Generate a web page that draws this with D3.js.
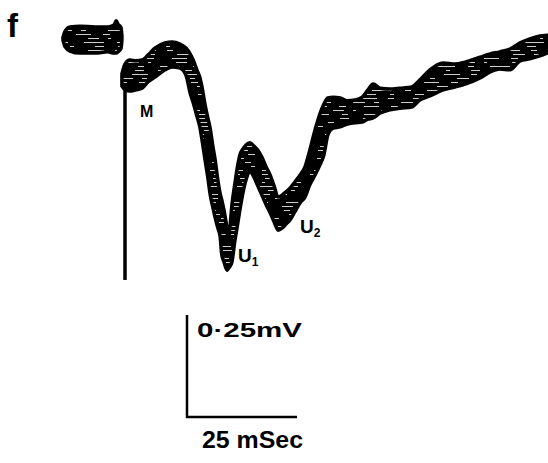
<!DOCTYPE html>
<html lang="en">
<head>
    <meta charset="UTF-8">
    <title>Evoked potential trace f</title>
    <style>
        body { margin: 0; background: #fff; }
        text { font-family: "Liberation Sans", Arial, sans-serif; font-weight: bold; fill: #000; }
        .trace { fill: #000; stroke: none; }
        .edge { fill: none; stroke: #000; stroke-width: 3.5; stroke-linejoin: round; }
        .streak { stroke: #fff; stroke-width: 1; opacity: 0.8; }
        .bar { fill: none; stroke: #000; stroke-width: 2.5; }
    </style>
</head>
<body>
<svg id="chart" width="548" height="463"></svg>

<script src="https://cdn.jsdelivr.net/npm/d3@7/dist/d3.min.js"></script>
<script>

    // time after stimulus (ms) and the upper / lower edge of the thick trace (mV)
    let traceTime = [-0.7, 0, 1.1, 2.5, 3.9, 5.2, 6.8, 9.1, 10.7, 12.5, 13.9, 14.8, 15.5, 16.4, 17.0, 17.5,
        18.2, 18.9, 19.3, 20.0, 20.5, 21.1, 21.6, 22.0, 22.5, 23.2, 23.4, 23.9, 24.3, 25.0, 25.5, 26.1,
        26.8, 27.5, 28.4, 29.3, 30.2, 31.1, 32.0, 33.0, 33.9, 34.8, 35.7, 36.6, 37.5, 38.6, 39.8, 40.9,
        42.0, 43.2, 44.3, 45.2, 46.1, 47.3, 48.9, 50.5, 52.3, 53.9, 55.2, 56.4, 58.0, 60.2, 62.5, 65.2,
        67.0, 69.3, 72.3, 75.0, 77.3, 80.7, 83.0, 85.2, 87.5, 89.8, 92.0, 94.3, 95.9]
    let traceHigh = [-0.088, -0.064, -0.054, -0.056, -0.054, -0.042, -0.025, -0.012, -0.010, -0.015, -0.025, -0.039, -0.054, -0.080, -0.096, -0.120,
        -0.164, -0.199, -0.218, -0.267, -0.299, -0.348, -0.380, -0.397, -0.422, -0.471, -0.495, -0.458, -0.409, -0.355, -0.319, -0.287,
        -0.272, -0.262, -0.257, -0.265, -0.275, -0.292, -0.314, -0.336, -0.363, -0.390, -0.385, -0.377, -0.368, -0.353, -0.336, -0.316,
        -0.275, -0.225, -0.186, -0.162, -0.147, -0.145, -0.147, -0.154, -0.152, -0.145, -0.127, -0.113, -0.123, -0.125, -0.123, -0.120,
        -0.103, -0.078, -0.061, -0.064, -0.059, -0.047, -0.039, -0.034, -0.027, -0.012, -0.002, 0.005, 0.007]
    let traceLow = [-0.118, -0.127, -0.130, -0.127, -0.123, -0.108, -0.096, -0.078, -0.071, -0.074, -0.093, -0.135, -0.159, -0.194, -0.218, -0.250,
        -0.299, -0.348, -0.380, -0.417, -0.441, -0.466, -0.485, -0.532, -0.549, -0.569, -0.566, -0.559, -0.549, -0.495, -0.463, -0.422,
        -0.380, -0.348, -0.328, -0.341, -0.363, -0.385, -0.407, -0.429, -0.451, -0.471, -0.466, -0.456, -0.446, -0.426, -0.404, -0.390,
        -0.360, -0.336, -0.311, -0.287, -0.238, -0.221, -0.218, -0.211, -0.208, -0.206, -0.199, -0.196, -0.184, -0.176, -0.172, -0.169,
        -0.152, -0.142, -0.127, -0.120, -0.113, -0.098, -0.083, -0.076, -0.078, -0.056, -0.051, -0.044, -0.037]

    // pre-stimulus baseline blob
    let preTime = [-14.1, -13.6, -12.5, -10.2, -6.8, -3.9, -2.5, -2.0, -1.6, -0.9, -0.7]
    let preHigh = [0.002, 0.017, 0.027, 0.029, 0.027, 0.027, 0.032, 0.042, 0.034, 0.025, 0.005]
    let preLow = [-0.005, -0.022, -0.032, -0.037, -0.037, -0.034, -0.037, -0.037, -0.034, -0.025, -0.005]

    // stimulus deflection (vertical sweep at t = 0)
    let stimTime = [0, 0]
    let stimVolt = [-0.123, -0.593]

    // calibration
    let calTime = 25      // ms
    let calVolt = 0.25    // mV
    let calTimeLabel = "25 mSec"
    let calVoltLabel = "0·25mV"

    // wave labels
    let waveNames = ["M", "U", "U"]
    let waveSubs = ["", "1", "2"]
    let waveTime = [3.4, 25.7, 39.8]
    let waveVolt = [-0.194, -0.549, -0.478]

    let svg = d3.select("#chart")

    let xScale = d3.scaleLinear()
        .domain([0, calTime])
        .range([125, 235])

    let yScale = d3.scaleLinear()
        .domain([0, -calVolt])
        .range([38, 140])

    let trace = traceTime.map((t, i) => ({t: t, hi: traceHigh[i], lo: traceLow[i]}))
    let pre = preTime.map((t, i) => ({t: t, hi: preHigh[i], lo: preLow[i]}))

    let band = d3.area()
        .x(d => xScale(d.t))
        .y0(d => yScale(d.lo))
        .y1(d => yScale(d.hi))
        .curve(d3.curveMonotoneX)

    let clip = svg.append("defs").append("clipPath").attr("id", "bandClip")
    clip.append("path").datum(pre).attr("d", band)
    clip.append("path").datum(trace).attr("d", band)

    svg.append("path")
        .datum(stimTime.map((t, i) => [t, stimVolt[i]]))
        .attr("fill", "none")
        .attr("stroke", "#000")
        .attr("stroke-width", 3.5)
        .attr("d", d3.line().x(d => xScale(d[0])).y(d => yScale(d[1])))

    let bands = svg.append("g")
    bands.selectAll(".trace")
        .data([pre, trace])
        .join("path")
        .attr("class", "trace")
        .attr("d", band)

    // photographic scan streaks inside the thick trace
    let dashes = ["9 14 4 21", "16 11 6 19", "5 22 12 9", "7 18 15 12", "11 9 3 25", "20 13 6 16"]
    bands.append("g")
        .attr("clip-path", "url(#bandClip)")
        .selectAll("line")
        .data(d3.range(22, 276, 4))
        .join("line")
        .attr("class", "streak")
        .attr("x1", 55)
        .attr("x2", 548)
        .attr("y1", d => d + 0.5)
        .attr("y2", d => d + 0.5)
        .attr("stroke-dasharray", (d, i) => dashes[i % dashes.length])
        .attr("stroke-dashoffset", (d, i) => (i * 11) % 29)

    bands.selectAll(".edge")
        .data([pre, trace])
        .join("path")
        .attr("class", "edge")
        .attr("d", band)

    // wave labels
    waveNames.forEach((n, i) => {
        let lab = svg.append("text")
            .attr("x", xScale(waveTime[i]))
            .attr("y", yScale(waveVolt[i]))
            .attr("font-size", n == "M" ? 16 : 19)
            .text(n)
        if (waveSubs[i]) {
            lab.append("tspan")
                .attr("font-size", 12)
                .attr("dy", 4)
                .text(waveSubs[i])
        }
    })

    svg.append("text")
        .attr("x", 7)
        .attr("y", 37)
        .attr("font-size", 33)
        .text("f")

    // calibration bars
    let barX = 187, barY = 417
    let barW = xScale(calTime) - xScale(0)
    let barH = yScale(-calVolt) - yScale(0)

    svg.append("path")
        .attr("class", "bar")
        .attr("d", "M" + barX + "," + (barY - barH) + "V" + barY + "H" + (barX + barW))

    svg.append("text")
        .attr("x", barX + 10)
        .attr("y", barY - barH + 22)
        .attr("font-size", 21)
        .attr("textLength", 105)
        .attr("lengthAdjust", "spacingAndGlyphs")
        .text(calVoltLabel)

    svg.append("text")
        .attr("x", barX + 15)
        .attr("y", barY + 31)
        .attr("font-size", 24)
        .attr("textLength", 101)
        .attr("lengthAdjust", "spacingAndGlyphs")
        .text(calTimeLabel)

</script>
</body>
</html>
